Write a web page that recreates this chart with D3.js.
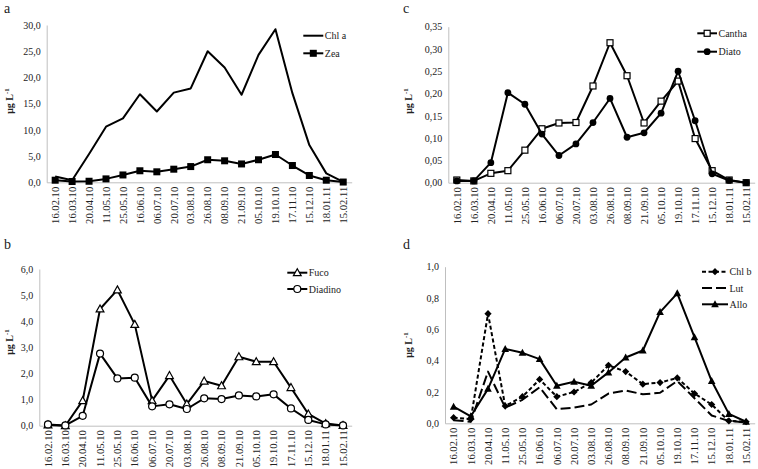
<!DOCTYPE html>
<html><head><meta charset="utf-8">
<script src="https://cdn.jsdelivr.net/npm/d3@7"></script>
<style>body{margin:0;background:#fff}svg{display:block}text{font-family:"Liberation Serif","Tinos","Times New Roman","DejaVu Serif",serif;fill:#222}</style>
</head><body><svg id="c" width="758" height="469" font-family="Liberation Serif, Tinos, Times New Roman, DejaVu Serif, serif"></svg>
<script>
const dates = ["16.02.10","16.03.10","20.04.10","11.05.10","25.05.10","16.06.10","06.07.10","20.07.10","03.08.10","26.08.10","08.09.10","21.09.10","05.10.10","19.10.10","17.11.10","15.12.10","18.01.11","15.02.11"];
const chlA   = [1.1,0.4,5.4,10.6,12.2,16.8,13.5,17.1,17.9,25.0,21.9,16.7,24.3,29.2,17.0,7.1,1.7,0.1];
const zea    = [0.4,0.15,0.2,0.65,1.4,2.2,2.0,2.5,3.0,4.3,4.1,3.5,4.3,5.3,3.2,1.3,0.4,0.05];
const cantha = [0.006,0.004,0.021,0.027,0.073,0.121,0.134,0.135,0.217,0.314,0.240,0.134,0.183,0.228,0.099,0.027,0.006,0.0];
const diato  = [0.004,0.004,0.045,0.202,0.176,0.109,0.061,0.087,0.135,0.189,0.102,0.112,0.156,0.250,0.139,0.020,0.005,0.0];
const fuco   = [0.03,0.0,0.96,4.47,5.2,3.88,0.96,1.92,0.83,1.71,1.53,2.64,2.45,2.45,1.46,0.45,0.08,0.01];
const diadino= [0.05,0.01,0.38,2.76,1.81,1.84,0.74,0.82,0.64,1.05,1.02,1.16,1.12,1.20,0.66,0.22,0.05,0.01];
const chlB   = [0.036,0.026,0.70,0.11,0.17,0.28,0.17,0.20,0.26,0.37,0.33,0.25,0.26,0.29,0.19,0.12,0.015,0.01];
const lut    = [0.02,0.01,0.33,0.10,0.15,0.23,0.09,0.10,0.12,0.19,0.21,0.185,0.195,0.27,0.16,0.05,0.015,0.005];
const allo   = [0.106,0.045,0.22,0.475,0.45,0.41,0.24,0.265,0.24,0.325,0.42,0.465,0.71,0.83,0.55,0.27,0.06,0.01];
const ticksA = [0,5,10,15,20,25,30];
const ticksB = [0,1,2,3,4,5,6];
const ticksC = [0,0.05,0.10,0.15,0.20,0.25,0.30,0.35];
const ticksD = [0,0.2,0.4,0.6,0.8,1.0];

const FONT = "'Liberation Serif','Tinos','Times New Roman','DejaVu Serif',serif";
const svg = d3.select("#c");
const fmt1 = d => d.toFixed(1).replace(".", ",");
const fmt2 = d => d.toFixed(2).replace(".", ",");

function marker(g, type, x, y) {
  const s = 3.5;
  if (type === "sqFill") g.append("rect").attr("x", x-s).attr("y", y-s).attr("width", 2*s).attr("height", 2*s).attr("fill", "#000");
  else if (type === "sqOpen") g.append("rect").attr("x", x-s+0.5).attr("y", y-s+0.5).attr("width", 2*s-1).attr("height", 2*s-1).attr("fill", "#fff").attr("stroke", "#000").attr("stroke-width", 1.2);
  else if (type === "cirFill") g.append("circle").attr("cx", x).attr("cy", y).attr("r", 3.4).attr("fill", "#000");
  else if (type === "cirOpen") g.append("circle").attr("cx", x).attr("cy", y).attr("r", 3.5).attr("fill", "#fff").attr("stroke", "#000").attr("stroke-width", 1.2);
  else if (type === "triOpen") g.append("path").attr("d", `M${x},${y-4}L${x+3.9},${y+3}L${x-3.9},${y+3}Z`).attr("fill", "#fff").attr("stroke", "#000").attr("stroke-width", 1.2);
  else if (type === "triFill") g.append("path").attr("d", `M${x},${y-4}L${x+3.8},${y+3}L${x-3.8},${y+3}Z`).attr("fill", "#000");
  else if (type === "diamond") g.append("path").attr("d", `M${x},${y-3.6}L${x+3.6},${y}L${x},${y+3.6}L${x-3.6},${y}Z`).attr("fill", "#000");
}

function panel(p) {
  const g = svg.append("g");
  const x = d3.scaleBand().domain(dates).range([p.x0, p.x1]);
  const y = d3.scaleLinear().domain([0, p.ymax]).range([p.y0, p.y1]);
  const ya = g.append("g").attr("transform", `translate(${p.x0},0)`).call(d3.axisLeft(y).tickValues(p.ticks).tickFormat(p.fmt).tickSize(0).tickPadding(6));
  ya.attr("font-family", null).attr("font-size", null);
  ya.select(".domain").attr("stroke", "#bfbfbf").attr("stroke-width", 1);
  ya.selectAll("text").style("font-size", "10px").style("font-family", FONT).attr("fill", "#333");
  const xa = g.append("g").attr("transform", `translate(0,${p.y0})`).call(d3.axisBottom(x).tickSize(0).tickPadding(0));
  xa.attr("font-family", null).attr("font-size", null);
  xa.select(".domain").attr("stroke", "#bfbfbf").attr("stroke-width", 1);
  xa.selectAll("text").attr("text-anchor", "end").attr("transform", "translate(0,4.5) rotate(-90)").attr("dy", "0.35em").attr("y", 0).attr("x", 0)
    .style("font-size", "10.6px").style("font-family", FONT).attr("fill", "#333");
  const t = g.append("text").attr("transform", `translate(${p.titleX},${p.titleY}) rotate(-90)`).attr("text-anchor", "middle")
    .style("font-size", "10px").style("font-weight", "bold").style("font-family", FONT);
  t.append("tspan").text("μg L");
  t.append("tspan").text("-1").attr("dy", "-4").style("font-size", "7px");
  g.append("text").attr("x", p.lx).attr("y", p.ly).text(p.letter).style("font-size", "14px").style("font-family", FONT);
  p.series.forEach((s, i) => {
    const line = d3.line().x((d, j) => x(dates[j]) + x.bandwidth()/2).y(d => y(d));
    g.append("path").attr("d", line(s.values)).attr("fill", "none").attr("stroke", "#000").attr("stroke-width", 2)
      .attr("stroke-dasharray", s.dash || null).attr("stroke-linejoin", "round");
    if (s.marker) s.values.forEach((d, j) => marker(g, s.marker, x(dates[j]) + x.bandwidth()/2, y(d)));
    const ly = p.legY + i * p.legDy;
    g.append("line").attr("x1", p.legX).attr("x2", p.legX + p.legW).attr("y1", ly).attr("y2", ly).attr("stroke", "#000").attr("stroke-width", 2).attr("stroke-dasharray", s.dash || null);
    if (s.marker) marker(g, s.marker, p.legX + p.legW/2, ly);
    g.append("text").attr("x", p.legX + p.legW + 1.5).attr("y", ly).attr("dy", "0.35em").text(s.name).style("font-size", "10px").style("font-family", FONT);
  });
}

panel({letter:"a", lx:4, ly:13, x0:46.7, x1:351.7, y0:182.3, y1:25, ymax:30, ticks:ticksA, fmt:fmt1, titleX:13, titleY:101,
  legX:303.3, legY:35.7, legDy:17.6, legW:20,
  series:[{name:"Chl a", values:chlA}, {name:"Zea", values:zea, marker:"sqFill"}]});
panel({letter:"c", lx:403, ly:13, x0:448.3, x1:754.7, y0:182.7, y1:26.7, ymax:0.35, ticks:ticksC, fmt:fmt2, titleX:412, titleY:101,
  legX:697.3, legY:33.3, legDy:18.4, legW:19.7,
  series:[{name:"Cantha", values:cantha, marker:"sqOpen"}, {name:"Diato", values:diato, marker:"cirFill"}]});
panel({letter:"b", lx:4, ly:249, x0:39.3, x1:351.7, y0:425.7, y1:269, ymax:6, ticks:ticksB, fmt:fmt1, titleX:13, titleY:342,
  legX:287.3, legY:272.7, legDy:16.3, legW:20,
  series:[{name:"Fuco", values:fuco, marker:"triOpen"}, {name:"Diadino", values:diadino, marker:"cirOpen"}]});
panel({letter:"d", lx:403, ly:249, x0:445, x1:754.7, y0:423.3, y1:266.7, ymax:1.0, ticks:ticksD, fmt:fmt1, titleX:412, titleY:345,
  legX:702, legY:271.7, legDy:16.3, legW:26,
  series:[{name:"Chl b", values:chlB, marker:"diamond", dash:"4,2.5"}, {name:"Lut", values:lut, dash:"10,4"}, {name:"Allo", values:allo, marker:"triFill"}]});
</script></body></html>
